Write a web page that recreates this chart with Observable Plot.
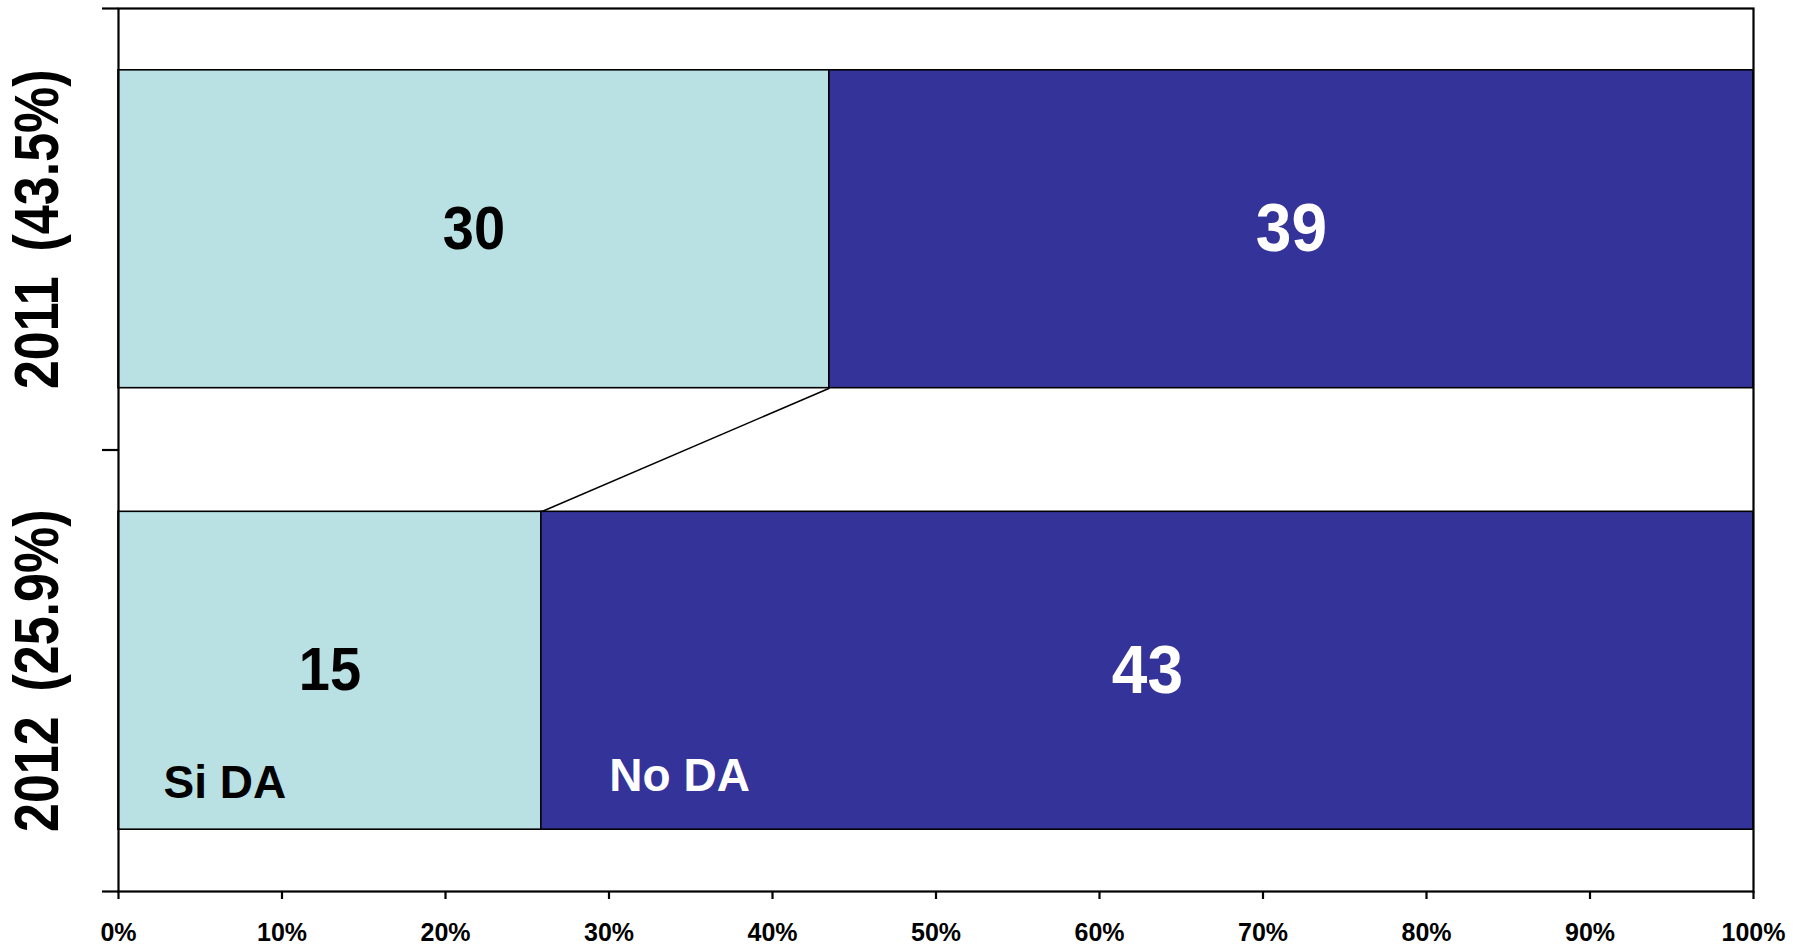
<!DOCTYPE html>
<html>
<head>
<meta charset="utf-8">
<script src="https://cdn.jsdelivr.net/npm/d3@7"></script>
<script src="https://cdn.jsdelivr.net/npm/@observablehq/plot@0.6"></script>
<style>
  html, body { margin: 0; padding: 0; background: #fff; }
  #chart svg { display: block; }
</style>
</head>
<body>
<div id="chart"></div>
<script>
// ---- data ----
const years = ["2011", "2012"];
const seriesNames = ["Si DA", "No DA"];
const siDA = [30, 15];
const noDA = [39, 43];
const xTicks = [0, 0.1, 0.2, 0.3, 0.4, 0.5, 0.6, 0.7, 0.8, 0.9, 1];
const yBoundaries = [0, 1, 2];
const colors = ["#B9E0E3", "#343399"];

// ---- derived tables ----
const pad = 0.14;
const shares = years.map((y, i) => siDA[i] / (siDA[i] + noDA[i]));
const yearLabels = years.map((y, i) => `${y}\u2009 (${(shares[i] * 100).toFixed(1)}%)`);
const rects = [];
years.forEach((y, i) => {
  rects.push({i, series: seriesNames[0], value: siDA[i], x1: 0, x2: shares[i], y1: i + pad, y2: i + 1 - pad});
  rects.push({i, series: seriesNames[1], value: noDA[i], x1: shares[i], x2: 1, y1: i + pad, y2: i + 1 - pad});
});
const links = years.slice(1).map((y, k) => ({
  x1: shares[k], y1: k + 1 - pad, x2: shares[k + 1], y2: k + 1 + pad
}));
const lastI = years.length - 1;
const siLabel = [{name: seriesNames[0], x: 0, y: lastI + 1 - pad}];
const noLabel = [{name: seriesNames[1], x: shares[lastI], y: lastI + 1 - pad}];
const yLabelRows = years.map((y, i) => ({label: yearLabels[i], y: i + 0.5}));

const font = "Liberation Sans, Arial, Helvetica, sans-serif";

const chart = Plot.plot({
  width: 1801,
  height: 944,
  marginLeft: 118,
  marginRight: 48,
  marginTop: 8,
  marginBottom: 53,
  style: {fontFamily: font, background: "white", overflow: "visible"},
  x: {domain: [0, 1]},
  y: {domain: [0, 2], reverse: true, axis: null},
  color: {domain: seriesNames, range: colors},
  marks: [
    Plot.rect(rects, {x1: "x1", x2: "x2", y1: "y1", y2: "y2", fill: "series", stroke: "black", strokeWidth: 1.6}),
    Plot.link(links, {x1: "x1", y1: "y1", x2: "x2", y2: "y2", stroke: "black", strokeWidth: 1.6}),
    Plot.frame({stroke: "black", strokeWidth: 2.2}),
    Plot.axisY({ticks: yBoundaries, tickSize: 16, tickFormat: () => "", stroke: "black", strokeWidth: 2.2}),
    Plot.axisX({ticks: xTicks, tickSize: 8, tickPadding: 24, tickFormat: d3.format(".0%"),
      fontSize: 25, fontWeight: "bold", fill: "black", stroke: "black", strokeWidth: 2.2}),
    Plot.text(rects.filter(d => d.series === seriesNames[0]), {
      x: d => (d.x1 + d.x2) / 2, y: d => d.i + 0.5, text: d => String(d.value),
      fill: "black", fontSize: 56, fontWeight: "bold", lineAnchor: "middle", className: "vlab"}),
    Plot.text(rects.filter(d => d.series === seriesNames[1]), {
      x: d => (d.x1 + d.x2) / 2, y: d => d.i + 0.5, text: d => String(d.value),
      fill: "white", fontSize: 64, fontWeight: "bold", lineAnchor: "middle", className: "vlab"}),
    Plot.text(siLabel, {
      x: "x", y: "y", text: "name", fill: "black", dx: 45, dy: -32,
      textAnchor: "start", lineAnchor: "bottom", fontSize: 46, fontWeight: "bold"}),
    Plot.text(noLabel, {
      x: "x", y: "y", text: "name", fill: "white", dx: 68, dy: -39,
      textAnchor: "start", lineAnchor: "bottom", fontSize: 46, fontWeight: "bold"}),
    Plot.text(yLabelRows, {
      y: "y", text: "label", frameAnchor: "left", dx: -80, rotate: -90,
      textAnchor: "middle", lineAnchor: "middle", fontSize: 52, fontWeight: "bold",
      fill: "black", className: "ylab"})
  ]
});

document.getElementById("chart").appendChild(chart);

// stretch glyph height of the rotated year labels (condensed look of the original)
d3.select(chart).selectAll(".ylab text").each(function () {
  const t = this.getAttribute("transform") || "";
  this.setAttribute("transform", t + " scale(1,1.2)");
});
// slightly taller value labels
d3.select(chart).selectAll(".vlab text").each(function () {
  const t = this.getAttribute("transform") || "";
  this.setAttribute("transform", t + " scale(1,1.08)");
});
</script>
</body>
</html>
